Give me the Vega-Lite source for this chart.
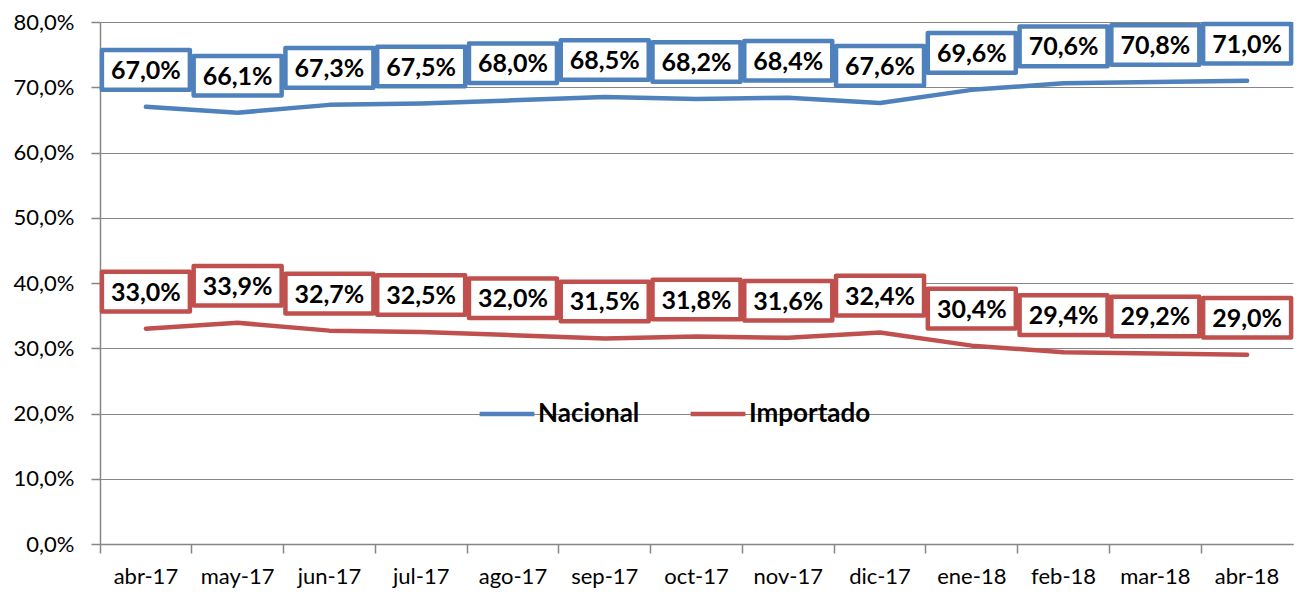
{
  "$schema": "https://vega.github.io/schema/vega-lite/v6.json",
  "width": 1193,
  "height": 522,
  "autosize": "none",
  "padding": {"left": 100, "top": 22, "right": 9, "bottom": 50},
  "background": "white",
  "config": {
    "font": "Lato",
    "view": {"stroke": null},
    "axis": {"labelFont": "Lato", "labelColor": "#000000", "labelFontSize": 22, "domainColor": "#868686", "tickColor": "#868686", "gridColor": "#868686", "domainWidth": 1.5, "tickWidth": 1.5}
  },
  "data": {
    "values": [
      {"month": "abr-17", "series": "Nacional", "value": 67.0},
      {"month": "may-17", "series": "Nacional", "value": 66.1},
      {"month": "jun-17", "series": "Nacional", "value": 67.3},
      {"month": "jul-17", "series": "Nacional", "value": 67.5},
      {"month": "ago-17", "series": "Nacional", "value": 68.0},
      {"month": "sep-17", "series": "Nacional", "value": 68.5},
      {"month": "oct-17", "series": "Nacional", "value": 68.2},
      {"month": "nov-17", "series": "Nacional", "value": 68.4},
      {"month": "dic-17", "series": "Nacional", "value": 67.6},
      {"month": "ene-18", "series": "Nacional", "value": 69.6},
      {"month": "feb-18", "series": "Nacional", "value": 70.6},
      {"month": "mar-18", "series": "Nacional", "value": 70.8},
      {"month": "abr-18", "series": "Nacional", "value": 71.0},
      {"month": "abr-17", "series": "Importado", "value": 33.0},
      {"month": "may-17", "series": "Importado", "value": 33.9},
      {"month": "jun-17", "series": "Importado", "value": 32.7},
      {"month": "jul-17", "series": "Importado", "value": 32.5},
      {"month": "ago-17", "series": "Importado", "value": 32.0},
      {"month": "sep-17", "series": "Importado", "value": 31.5},
      {"month": "oct-17", "series": "Importado", "value": 31.8},
      {"month": "nov-17", "series": "Importado", "value": 31.6},
      {"month": "dic-17", "series": "Importado", "value": 32.4},
      {"month": "ene-18", "series": "Importado", "value": 30.4},
      {"month": "feb-18", "series": "Importado", "value": 29.4},
      {"month": "mar-18", "series": "Importado", "value": 29.2},
      {"month": "abr-18", "series": "Importado", "value": 29.0}
    ]
  },
  "encoding": {
    "x": {
      "field": "month", "type": "ordinal", "sort": null, "bandPosition": 0.5,
      "scale": {"type": "band", "paddingInner": 0, "paddingOuter": 0},
      "axis": {"title": null, "labelAngle": 0, "bandPosition": 0, "tickSize": 9, "labelPadding": 13, "grid": false}
    },
    "y": {
      "field": "value", "type": "quantitative",
      "scale": {"domain": [0, 80], "nice": false},
      "axis": {"title": null, "values": [0, 10, 20, 30, 40, 50, 60, 70, 80], "tickSize": 9, "labelPadding": 17, "grid": true, "gridWidth": 1.2,
        "labelExpr": "replace(format(datum.value, '.1f'), '.', ',') + '%'"}
    }
  },
  "layer": [
    {
      "mark": {"type": "line", "strokeWidth": 4.5, "strokeCap": "round", "strokeJoin": "round"},
      "encoding": {
        "color": {
          "field": "series", "type": "nominal",
          "scale": {"domain": ["Nacional", "Importado"], "range": ["#4F81BD", "#C0504D"]},
          "legend": {"title": null, "orient": "none", "legendX": 377, "legendY": 362, "direction": "horizontal", "symbolType": "stroke", "symbolSize": 3000, "symbolStrokeWidth": 4.5, "labelFontSize": 26, "labelFontWeight": "bold", "labelColor": "#000000", "labelFont": "Lato", "labelOffset": 1, "columnPadding": 41, "padding": 0}
        }
      }
    },
    {
      "mark": {"type": "point", "shape": "M-1,-0.45H1V0.45H-1Z", "size": 7744, "filled": false, "fill": "white", "fillOpacity": 1, "strokeWidth": 4.5, "strokeJoin": "round", "yOffset": -37, "opacity": 1},
      "encoding": {
        "stroke": {"field": "series", "type": "nominal", "scale": {"domain": ["Nacional", "Importado"], "range": ["#4F81BD", "#C0504D"]}, "legend": null}
      }
    },
    {
      "transform": [{"calculate": "replace(format(datum.value, '.1f'), '.', ',') + '%'", "as": "label"}],
      "mark": {"type": "text", "fontSize": 25, "fontWeight": "bold", "font": "Lato", "color": "#000000", "yOffset": -36, "baseline": "middle", "align": "center"},
      "encoding": {"text": {"field": "label"}}
    }
  ]
}
